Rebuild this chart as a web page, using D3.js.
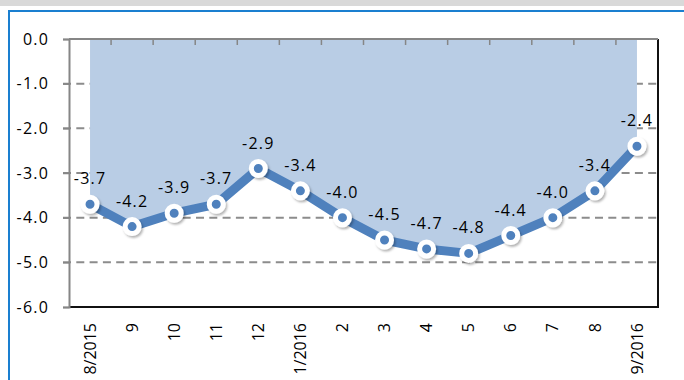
<!DOCTYPE html>
<html>
<head>
<meta charset="utf-8">
<script src="https://cdn.jsdelivr.net/npm/d3@7"></script>
<style>
  html, body { margin: 0; padding: 0; background: #fff; }
  svg { display: block; }
  text { font-family: "Open Sans", "Noto Sans", sans-serif; }
</style>
</head>
<body>
<script>
// ---- data ----
const categories = ["8/2015", "9", "10", "11", "12", "1/2016", "2", "3", "4", "5", "6", "7", "8", "9/2016"];
const values = [-3.7, -4.2, -3.9, -3.7, -2.9, -3.4, -4.0, -4.5, -4.7, -4.8, -4.4, -4.0, -3.4, -2.4];
const yTicks = [0, -1, -2, -3, -4, -5, -6];
const yTickLabels = ["0.0", "-1.0", "-2.0", "-3.0", "-4.0", "-5.0", "-6.0"];

const W = 684, H = 380;
const margin = { left: 69, right: 26, top: 39, bottom: 73 };
const plotW = W - margin.left - margin.right;
const plotH = H - margin.top - margin.bottom;

const svg = d3.select("body").append("svg").attr("width", W).attr("height", H);

// frame decorations
svg.append("rect").attr("x", 0).attr("y", 0).attr("width", W).attr("height", 6).attr("fill", "#d9d9d9");
svg.append("line").attr("x1", 8).attr("x2", W).attr("y1", 11).attr("y2", 11).attr("stroke", "#1a7fd0").attr("stroke-width", 2);
svg.append("line").attr("x1", 9).attr("x2", 9).attr("y1", 10).attr("y2", H).attr("stroke", "#1a7fd0").attr("stroke-width", 2);

const defs = svg.append("defs");
const f = defs.append("filter").attr("id", "shadow").attr("x", "-50%").attr("y", "-50%").attr("width", "200%").attr("height", "200%");
f.append("feDropShadow").attr("dx", 1.5).attr("dy", 2).attr("stdDeviation", 1.2).attr("flood-color", "#000").attr("flood-opacity", 0.3);

const g = svg.append("g").attr("transform", `translate(${margin.left},${margin.top})`);

const x = d3.scaleBand().domain(categories).range([0, plotW]).padding(0);
const y = d3.scaleLinear().domain([-6, 0]).range([plotH, 0]);
const cx = d => x(d) + x.bandwidth() / 2;

// gridlines (behind area)
g.append("g").selectAll("line").data(yTicks.filter(v => v !== 0 && v !== -6)).join("line")
  .attr("x1", -6).attr("x2", plotW)
  .attr("y1", d => y(d)).attr("y2", d => y(d))
  .attr("stroke", "#8c8c8c").attr("stroke-width", 2).attr("stroke-dasharray", "8,5.3");

// area
const pts = categories.map((c, i) => ({ c, v: values[i] }));
g.append("path").datum(pts)
  .attr("fill", "#b9cde5")
  .attr("d", d3.area().x(d => cx(d.c)).y0(y(0)).y1(d => y(d.v)));

// borders: right and bottom black
g.append("line").attr("x1", plotW).attr("x2", plotW).attr("y1", 0).attr("y2", plotH + 1).attr("stroke", "#111").attr("stroke-width", 2);
g.append("line").attr("x1", 0).attr("x2", plotW + 1).attr("y1", plotH).attr("y2", plotH).attr("stroke", "#111").attr("stroke-width", 2);

// y axis
const yAxis = d3.axisLeft(y).tickValues(yTicks).tickSize(6).tickPadding(14)
  .tickFormat((d, i) => yTickLabels[i]);
const ya = g.append("g").call(yAxis);
ya.select(".domain").attr("stroke", "#868686").attr("stroke-width", 2);
ya.selectAll(".tick line").attr("stroke", "#868686").attr("stroke-width", 1.5);
ya.selectAll(".tick text").attr("font-size", 16).attr("fill", "#000").attr("letter-spacing", "1.2px")
  .attr("font-family", "'Open Sans', sans-serif");

// top category axis (at y = 0) with inward ticks at band boundaries
g.append("line").attr("x1", 0).attr("x2", plotW).attr("y1", 0).attr("y2", 0).attr("stroke", "#868686").attr("stroke-width", 2);
g.append("g").selectAll("line").data(categories.slice(1)).join("line")
  .attr("x1", d => x(d)).attr("x2", d => x(d)).attr("y1", 0).attr("y2", 6)
  .attr("stroke", "#868686").attr("stroke-width", 1.5);

// x labels (rotated)
g.append("g").selectAll("text").data(categories).join("text")
  .attr("transform", d => `translate(${cx(d)},${plotH + 16}) rotate(-90)`)
  .attr("text-anchor", "end").attr("dy", "0.35em")
  .attr("font-size", 16).attr("fill", "#000")
  .text(d => d);

// line
g.append("path").datum(pts)
  .attr("fill", "none").attr("stroke", "#4f81bd").attr("stroke-width", 9).attr("stroke-linejoin", "round")
  .attr("d", d3.line().x(d => cx(d.c)).y(d => y(d.v)));

// markers
g.append("g").selectAll("circle").data(pts).join("circle")
  .attr("cx", d => cx(d.c)).attr("cy", d => y(d.v)).attr("r", 7)
  .attr("fill", "#4f81bd").attr("stroke", "#fff").attr("stroke-width", 5)
  .attr("filter", "url(#shadow)");

// data labels
g.append("g").selectAll("text").data(pts).join("text")
  .attr("x", d => cx(d.c)).attr("y", d => y(d.v) - 20)
  .attr("text-anchor", "middle").attr("font-size", 16).attr("letter-spacing", "1.2px").attr("fill", "#000")
  .text(d => d.v.toFixed(1));
</script>
</body>
</html>
